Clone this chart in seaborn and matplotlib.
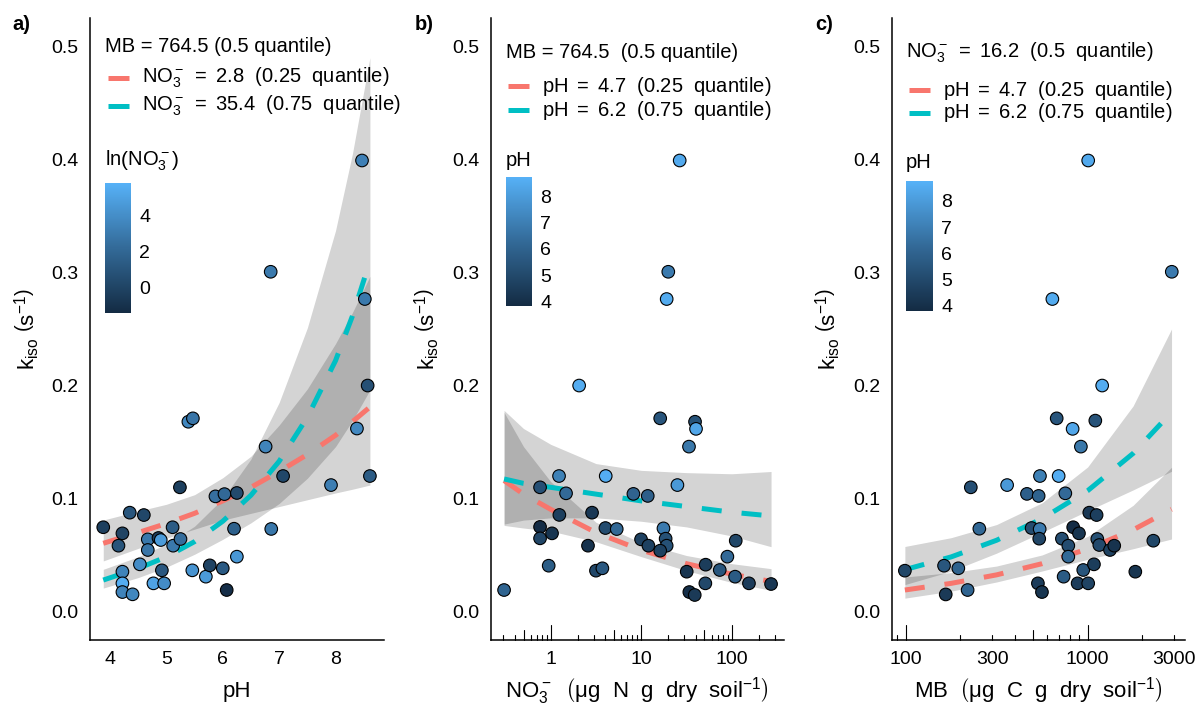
import numpy as np
import pandas as pd
import matplotlib
matplotlib.use("Agg")
import matplotlib.pyplot as plt
import seaborn as sns
from matplotlib.colors import LinearSegmentedColormap, Normalize
from matplotlib.lines import Line2D
from matplotlib.ticker import FixedLocator, NullLocator, FixedFormatter, FormatStrFormatter
import matplotlib.transforms as mtransforms
from matplotlib.mathtext import MathTextParser

# ---------------- data: panel a (k_iso vs pH, colour = ln NO3) ----------------
a_ph = [3.88, 4.22, 4.15, 4.35, 4.60, 4.22, 4.22, 4.22, 4.40, 4.53, 4.67, 4.67, 4.86, 4.90,
        5.11, 5.12, 5.25, 4.92, 4.77, 4.96, 5.39, 5.47, 5.24, 5.46, 5.70, 5.77, 6.00, 6.07,
        6.25, 6.20, 5.87, 6.03, 6.25, 6.76, 7.07, 6.86, 7.92, 8.38, 8.61, 8.57, 8.47, 6.85, 8.52]
a_k = [0.0747, 0.0693, 0.0584, 0.0876, 0.0855, 0.0354, 0.0251, 0.0174, 0.0154, 0.0419, 0.0640,
       0.0546, 0.0652, 0.0634, 0.0747, 0.0584, 0.0643, 0.0366, 0.0251, 0.0251, 0.168, 0.171,
       0.110, 0.0366, 0.0310, 0.0410, 0.0384, 0.0192, 0.0487, 0.0734, 0.102, 0.104, 0.105,
       0.146, 0.120, 0.0732, 0.112, 0.162, 0.120, 0.200, 0.399, 0.3006, 0.2765]
a_lnno3 = [-0.27, 0.03, 0.95, 1.05, 0.22, 3.46, 5.6, 3.53, 3.66, 3.94, 2.92, 2.79, -0.27, 4.7,
           1.39, 2.95, 2.3, 1.15, 5.04, 3.93, 3.67, 2.79, -0.27, 4.3, 4.69, -0.05, 1.31, -1.19,
           4.49, 1.68, 2.47, 2.10, 0.39, 3.52, 0.21, 2.87, 3.22, 3.70, 1.40, 0.72, 3.28, 2.99, 2.95]

a_fit_ph = [3.88, 4.5, 5.0, 5.5, 6.0, 6.5, 7.0, 7.5, 8.0, 8.3, 8.61]
a_lo_fit = [0.0605, 0.070, 0.078, 0.087, 0.098, 0.110, 0.124, 0.139, 0.156, 0.168, 0.181]
a_lo_lwr = [0.0449, 0.056, 0.065, 0.073, 0.081, 0.087, 0.093, 0.099, 0.105, 0.1083, 0.112]
a_lo_upr = [0.0811, 0.089, 0.095, 0.1035, 0.1185, 0.1375, 0.165, 0.197, 0.237, 0.2645, 0.2965]
a_hi_fit = [0.028, 0.0383, 0.0485, 0.062, 0.080, 0.103, 0.133, 0.172, 0.222, 0.2615, 0.310]
a_hi_lwr = [0.0209, 0.0302, 0.0394, 0.0508, 0.064, 0.0786, 0.0957, 0.118, 0.146, 0.169, 0.196]
a_hi_upr = [0.0375, 0.0486, 0.0597, 0.0756, 0.100, 0.135, 0.185, 0.251, 0.337, 0.405, 0.490]

# ---------------- data: panel b (k_iso vs NO3, colour = pH) ----------------
b_no3 = [0.305, 2.06, 1.235, 0.762, 1.476, 1.245, 0.762, 0.762, 1.033, 0.949, 2.86, 2.58, 4.05,
         4.02, 5.36, 3.16, 3.72, 8.19, 11.8, 9.95, 12.0, 16.2, 25.1, 33.7, 39.3, 40.3, 17.6,
         18.6, 19.1, 16.2, 31.8, 34.0, 39.0, 51.5, 51.1, 73.7, 89.5, 110.7, 108.9, 155, 272,
         26.6, 19.9, 19.1]
b_k = [0.0192, 0.200, 0.120, 0.110, 0.1047, 0.0856, 0.0750, 0.0649, 0.0693, 0.0407, 0.0876,
       0.0584, 0.120, 0.0740, 0.0731, 0.0363, 0.0384, 0.1042, 0.1024, 0.0640, 0.0584, 0.171,
       0.112, 0.146, 0.168, 0.1617, 0.0737, 0.0646, 0.0584, 0.0540, 0.0354, 0.0174, 0.0148,
       0.0416, 0.0251, 0.0369, 0.0487, 0.0628, 0.0310, 0.0251, 0.0245, 0.399, 0.3006, 0.2765]
b_ph = [6.07, 8.57, 7.07, 5.24, 6.25, 4.60, 3.88, 4.86, 4.22, 5.77, 4.35, 4.15, 8.61, 5.11,
        6.20, 4.92, 5.6, 6.03, 5.87, 4.7, 4.7, 5.47, 7.92, 6.76, 5.39, 8.38, 6.86, 5.3, 5.3,
        4.67, 4.22, 4.0, 4.40, 4.53, 4.96, 5.46, 6.25, 4.90, 5.70, 4.5, 4.3, 8.47, 6.85, 8.52]

b_fit_no3 = [0.305, 0.5, 1.0, 3.16, 10.0, 31.6, 100.0, 272.0]
b_lo_fit = [0.116, 0.104, 0.0905, 0.0700, 0.0545, 0.0425, 0.0332, 0.0268]
b_lo_lwr = [0.0763, 0.074, 0.0713, 0.0619, 0.0487, 0.0363, 0.0259, 0.0189]
b_lo_upr = [0.1763, 0.146, 0.115, 0.0791, 0.061, 0.0497, 0.0425, 0.0381]
b_hi_fit = [0.1174, 0.1135, 0.110, 0.104, 0.098, 0.093, 0.088, 0.0847]
b_hi_lwr = [0.0775, 0.081, 0.083, 0.083, 0.080, 0.075, 0.067, 0.0575]
b_hi_upr = [0.178, 0.162, 0.148, 0.131, 0.125, 0.123, 0.122, 0.124]

# ---------------- data: panel c (k_iso vs MB, colour = pH) ----------------
c_mb = [99, 162.5, 194.7, 166, 219, 228, 254, 361, 464, 538, 547, 492, 545, 542, 533, 561,
        676, 693, 754, 827, 918, 722, 783, 783, 738, 833, 896, 881, 1007, 946, 1021, 1120,
        1083, 1102, 1130, 1159, 1327, 1400, 1202, 1828, 2296, 1007, 2900, 640]
c_k = [0.0363, 0.0407, 0.0384, 0.0153, 0.0192, 0.110, 0.0734, 0.112, 0.1042, 0.1024, 0.120,
       0.0740, 0.0731, 0.0646, 0.0251, 0.0174, 0.171, 0.120, 0.1047, 0.1617, 0.146, 0.0646,
       0.0584, 0.0487, 0.0310, 0.0747, 0.0693, 0.0251, 0.0251, 0.0369, 0.0876, 0.0855, 0.0419,
       0.169, 0.0643, 0.0590, 0.0546, 0.0584, 0.200, 0.0354, 0.0628, 0.399, 0.3006, 0.2765]
c_ph = [4.9, 5.5, 6.0, 4.4, 6.07, 5.24, 6.20, 7.92, 5.87, 6.0, 7.07, 5.11, 6.86, 4.86, 4.5,
        4.22, 5.47, 8.61, 6.25, 8.38, 6.76, 5.2, 5.12, 6.25, 5.70, 3.88, 4.22, 4.5, 4.8, 5.46,
        4.35, 4.60, 4.53, 5.39, 5.25, 5.0, 4.67, 4.15, 8.57, 4.22, 4.90, 8.47, 6.85, 8.52]

c_fit_mb = [99, 178, 316, 562, 1000, 1778, 2891]
c_lo_fit = [0.0192, 0.0251, 0.0326, 0.0425, 0.0555, 0.0724, 0.0906]
c_lo_lwr = [0.0120, 0.0182, 0.0263, 0.0360, 0.0463, 0.0557, 0.0643]
c_lo_upr = [0.0307, 0.0346, 0.0404, 0.0502, 0.0666, 0.0941, 0.1277]
c_hi_fit = [0.0372, 0.0485, 0.0632, 0.0823, 0.107, 0.140, 0.1764]
c_hi_lwr = [0.0240, 0.0359, 0.0518, 0.0703, 0.0892, 0.1077, 0.1242]
c_hi_upr = [0.0577, 0.0655, 0.0771, 0.0963, 0.128, 0.182, 0.250]

y_ticks = [0.0, 0.1, 0.2, 0.3, 0.4, 0.5]

# ---------------- style ----------------
sns.set_style("white")
plt.rcParams.update({
    'font.family': ['Liberation Sans', 'DejaVu Sans'],
    'text.color': 'black',
    'axes.labelcolor': 'black',
    'xtick.color': 'black',
    'ytick.color': 'black',
    'mathtext.fontset': 'custom',
    'mathtext.rm': 'Liberation Sans',
    'mathtext.it': 'Liberation Sans:italic',
    'mathtext.bf': 'Liberation Sans:bold',
    'mathtext.fallback': 'cm',
})

_parser = MathTextParser("path")


def _ok(s):
    try:
        _parser.parse(s, 72, matplotlib.font_manager.FontProperties(size=14))
        return True
    except Exception:
        return False


STRUT = r"\vphantom{\mathrm{N}_{3}^{-}}"
USE_STRUT = _ok(r"$\left(a" + STRUT + r"\right)$")


def bg(inner):
    """plotmath-like bgroup: parentheses around inner."""
    if USE_STRUT:
        return r"\left(" + inner + STRUT + r"\right)"
    return r"\left(" + inner + r"\right)"


RED = '#F8766D'
CYAN = '#00BFC4'
cmap = LinearSegmentedColormap.from_list('gg', ['#132B43', '#336A98', '#56B1F7'])
norm_no3 = Normalize(-1.4, 5.8)
norm_ph = Normalize(3.82, 8.75)

W, H = 1197, 706
fig = plt.figure(figsize=(W / 100, H / 100), dpi=100)


def rect(l, r, t, b):
    return [l / W, 1 - b / H, (r - l) / W, (b - t) / H]


def fxy(x, y):
    return (x / W, 1 - y / H)


TOP, BOT = 18, 640
AXH = BOT - TOP
TICK_FS = 14
LEG_FS = 14.5
LAB_FS = 16


def base_axes(l, r):
    ax = fig.add_axes(rect(l, r, TOP, BOT))
    ax.set_facecolor('white')
    for s in ['top', 'right']:
        ax.spines[s].set_visible(False)
    for s in ['left', 'bottom']:
        ax.spines[s].set_color('black')
        ax.spines[s].set_linewidth(1.1)
    ax.set_ylim(-0.025, 0.525)
    ax.yaxis.set_major_locator(FixedLocator(y_ticks))
    ax.yaxis.set_major_formatter(FormatStrFormatter('%.1f'))
    ax.tick_params(axis='both', which='major', direction='out', length=3.6, width=0.8,
                   color='black', labelsize=TICK_FS, pad=4.5, labelcolor='black')
    ax.tick_params(axis='both', which='minor', length=0)
    ylab = ax.set_ylabel(r"$\mathrm{k}_{\mathrm{iso}}\ " + bg(r"\mathrm{s}^{-1}") + "$",
                         fontsize=LAB_FS, color='black')
    ylab.set_va('center')
    ax.yaxis.set_label_coords(-63 / (r - l), 0.5)
    ax.grid(False)
    return ax


def set_xlab(ax, text):
    lab = ax.set_xlabel(text, fontsize=LAB_FS, color='black')
    lab.set_va('center')
    ax.xaxis.set_label_coords(0.5, -51 / AXH)


def draw_fits(ax, xs, lo_f, lo_l, lo_u, hi_f, hi_l, hi_u):
    ax.fill_between(xs, lo_l, lo_u, color='black', alpha=0.17, linewidth=0, zorder=1)
    ax.fill_between(xs, hi_l, hi_u, color='black', alpha=0.17, linewidth=0, zorder=1)
    ax.plot(xs, lo_f, color=RED, lw=3.6, linestyle=(0, (4, 4)), zorder=2)
    ax.plot(xs, hi_f, color=CYAN, lw=3.6, linestyle=(0, (4, 4)), zorder=2)


def draw_points(ax, x, y, c, norm):
    df = pd.DataFrame({'x': x, 'y': y, 'c': c})
    sns.scatterplot(data=df, x='x', y='y', hue='c', palette=cmap, hue_norm=norm, s=82,
                    edgecolor='black', linewidth=0.8, legend=False, ax=ax, zorder=3)


def logticks(ax, lo, hi):
    trans = mtransforms.blended_transform_factory(ax.transData, ax.transAxes)
    for e in range(-2, 5):
        for m in range(1, 10):
            v = m * 10.0 ** e
            if lo <= v <= hi:
                L = 15 if m == 1 else (10 if m == 5 else 5.5)
                ax.plot([v, v], [0, L / AXH], transform=trans, color='black', lw=0.8,
                        clip_on=False, zorder=4)


def colorbar(l, r, t, b, norm, ticks, title, title_y):
    cax = fig.add_axes(rect(l, r, t, b))
    cb = fig.colorbar(plt.cm.ScalarMappable(norm=norm, cmap=cmap), cax=cax)
    cb.outline.set_visible(False)
    cb.set_ticks(ticks)
    cb.set_ticklabels([str(t_) for t_ in ticks])
    cax.tick_params(axis='y', direction='in', color='white', labelcolor='black', length=3.6,
                    width=0.8, left=True, right=True, labelleft=False, labelright=True,
                    labelsize=14, pad=6)
    cax.minorticks_off()
    fig.text(*fxy(l, title_y), title, ha='left', va='center', fontsize=LEG_FS, color='black')


def legend(title, tx, ty, lx0, lx1, tx2, entries):
    fig.text(*fxy(tx, ty), title, ha='left', va='center', fontsize=LEG_FS, color='black')
    for lab, col, yy in entries:
        fig.add_artist(Line2D([lx0 / W, lx1 / W], [1 - yy / H, 1 - yy / H], color=col, lw=3.6,
                              solid_capstyle='butt'))
        fig.text(*fxy(tx2, yy), lab, ha='left', va='center', fontsize=LEG_FS, color='black')


NO3 = r"\mathrm{NO}_3^-"


def entry(lhs, val, q):
    return "$" + lhs + r"\ =\ " + val + r"\ \ " + bg(q + r"\ \ \mathrm{quantile}") + "$"


# ---------------- panel a ----------------
axA = base_axes(90, 384)
draw_fits(axA, a_fit_ph, a_lo_fit, a_lo_lwr, a_lo_upr, a_hi_fit, a_hi_lwr, a_hi_upr)
draw_points(axA, a_ph, a_k, a_lnno3, norm_no3)
axA.set_xlim(3.645, 8.86)
axA.xaxis.set_major_locator(FixedLocator([4, 5, 6, 7, 8]))
axA.xaxis.set_major_formatter(FormatStrFormatter('%d'))
set_xlab(axA, "pH")

# ---------------- panel b ----------------
axB = base_axes(490.7, 784)
draw_fits(axB, b_fit_no3, b_lo_fit, b_lo_lwr, b_lo_upr, b_hi_fit, b_hi_lwr, b_hi_upr)
draw_points(axB, b_no3, b_k, b_ph, norm_ph)
axB.set_xscale('log')
axB.set_xlim(0.217, 378)
axB.xaxis.set_major_locator(FixedLocator([1, 10, 100]))
axB.xaxis.set_major_formatter(FixedFormatter(['1', '10', '100']))
axB.xaxis.set_minor_locator(NullLocator())
logticks(axB, 0.217, 378)
set_xlab(axB, "$" + NO3 + r"\ \ " + bg(r"\mathrm{\mu g\ \ N\ \ g\ \ dry\ \ soil}^{-1}") + "$")

# ---------------- panel c ----------------
axC = base_axes(891.7, 1185)
draw_fits(axC, c_fit_mb, c_lo_fit, c_lo_lwr, c_lo_upr, c_hi_fit, c_hi_lwr, c_hi_upr)
draw_points(axC, c_mb, c_k, c_ph, norm_ph)
axC.set_xscale('log')
axC.set_xlim(83.8, 3428)
axC.xaxis.set_major_locator(FixedLocator([100, 300, 1000, 3000]))
axC.xaxis.set_major_formatter(FixedFormatter(['100', '300', '1000', '3000']))
axC.xaxis.set_minor_locator(NullLocator())
logticks(axC, 83.8, 3428)
set_xlab(axC, r"$\mathrm{MB}\ \ " + bg(r"\mathrm{\mu g\ \ C\ \ g\ \ dry\ \ soil}^{-1}") + "$")

# ---------------- legends ----------------
legend("MB = 764.5 (0.5 quantile)", 105, 46, 108, 129, 142,
       [(entry(NO3, "2.8", "0.25"), RED, 78),
        (entry(NO3, "35.4", "0.75"), CYAN, 106)])
colorbar(105, 131, 183, 313, norm_no3, [0, 2, 4], r"$\mathrm{ln}" + bg(NO3) + "$", 161)

legend("MB = 764.5  (0.5 quantile)", 506, 53, 508, 529, 542,
       [(entry(r"\mathrm{pH}", "4.7", "0.25"), RED, 86),
        (entry(r"\mathrm{pH}", "6.2", "0.75"), CYAN, 110)])
colorbar(505.7, 531.7, 176.7, 306, norm_ph, [4, 5, 6, 7, 8], "pH", 160)

legend(entry(NO3, "16.2", "0.5"), 906, 53, 909, 930, 943,
       [(entry(r"\mathrm{pH}", "4.7", "0.25"), RED, 90),
        (entry(r"\mathrm{pH}", "6.2", "0.75"), CYAN, 113)])
colorbar(906, 932.7, 181, 310.7, norm_ph, [4, 5, 6, 7, 8], "pH", 163)

# panel tags
for lab, x in [("a)", 12), ("b)", 415), ("c)", 815)]:
    fig.text(*fxy(x, 24), lab, ha='left', va='center', fontsize=14.5, fontweight='bold',
             color='black')

fig.savefig("out.png", dpi=100, facecolor='white')
